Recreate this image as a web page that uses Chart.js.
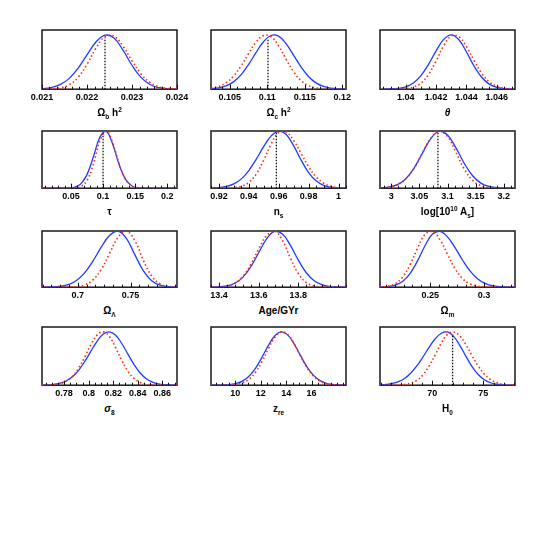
<!DOCTYPE html>
<html>
<head>
<meta charset="utf-8">
<script src="https://cdn.jsdelivr.net/npm/chart.js@4.4.1/dist/chart.umd.min.js"></script>
<style>
  body { margin: 0; background: #fff; }
  #plots { position: relative; width: 545px; height: 545px; }
  #plots canvas { position: absolute; }
  .xlab { position: absolute; text-align: center; font: bold 10px 'Liberation Sans', Arial, sans-serif; color: #000; line-height: 12px; }
  .xlab sub, .xlab sup { font-size: 65%; line-height: 0; }
</style>
</head>
<body>
<div id="plots"></div>
<script>
// ---- data (curves normalised to peak = 1) ----
const p1X = [0.0210, 0.0212, 0.0214, 0.0216, 0.0218, 0.0220, 0.0222, 0.0224, 0.0226, 0.0228, 0.0230, 0.0232, 0.0234, 0.0236, 0.0238, 0.0240];
const p1Blue = [0.009, 0.029, 0.083, 0.195, 0.384, 0.632, 0.868, 0.994, 0.941, 0.718, 0.441, 0.218, 0.087, 0.028, 0.007, 0.002];
const p1Red = [0.001, 0.005, 0.023, 0.080, 0.216, 0.458, 0.755, 0.969, 0.975, 0.793, 0.524, 0.282, 0.124, 0.044, 0.013, 0.003];

const p2X = [0.1025, 0.1035, 0.1045, 0.1055, 0.1065, 0.1075, 0.1085, 0.1095, 0.1105, 0.1115, 0.1125, 0.1135, 0.1145, 0.1155, 0.1165, 0.1175, 0.1185, 0.1195, 0.1205];
const p2Blue = [0.008, 0.023, 0.060, 0.135, 0.265, 0.452, 0.674, 0.874, 0.989, 0.976, 0.839, 0.629, 0.411, 0.234, 0.116, 0.050, 0.019, 0.006, 0.002];
const p2Red = [0.017, 0.048, 0.116, 0.239, 0.425, 0.653, 0.865, 0.988, 0.969, 0.801, 0.556, 0.325, 0.159, 0.066, 0.023, 0.007, 0.002, 0.000, 0.000];

const p3X = [1.0385, 1.0390, 1.0395, 1.0400, 1.0405, 1.0410, 1.0415, 1.0420, 1.0425, 1.0430, 1.0435, 1.0440, 1.0445, 1.0450, 1.0455, 1.0460, 1.0465, 1.0470];
const p3Blue = [0.001, 0.004, 0.014, 0.044, 0.114, 0.249, 0.458, 0.707, 0.917, 1.000, 0.910, 0.685, 0.427, 0.220, 0.094, 0.033, 0.010, 0.002];
const p3Red = [0.000, 0.000, 0.002, 0.010, 0.037, 0.111, 0.270, 0.520, 0.801, 0.982, 0.967, 0.785, 0.528, 0.294, 0.135, 0.052, 0.016, 0.004];

const p4X = [0.005, 0.015, 0.025, 0.035, 0.045, 0.055, 0.065, 0.075, 0.085, 0.095, 0.105, 0.115, 0.125, 0.135, 0.145, 0.155, 0.165, 0.175, 0.185, 0.195, 0.205, 0.215];
const p4Blue = [0, 0, 0, 0, 0.002, 0.015, 0.071, 0.237, 0.552, 0.889, 0.993, 0.768, 0.411, 0.153, 0.039, 0.007, 0.001, 0, 0, 0, 0, 0];
const p4Red = [0, 0, 0, 0, 0, 0.003, 0.027, 0.135, 0.424, 0.825, 0.998, 0.790, 0.423, 0.153, 0.038, 0.006, 0.001, 0, 0, 0, 0, 0];

const p5X = [0.915, 0.920, 0.925, 0.930, 0.935, 0.940, 0.945, 0.950, 0.955, 0.960, 0.965, 0.970, 0.975, 0.980, 0.985, 0.990, 0.995, 1.000, 1.005];
const p5Blue = [0.003, 0.011, 0.030, 0.075, 0.163, 0.309, 0.509, 0.730, 0.915, 0.999, 0.938, 0.741, 0.492, 0.274, 0.129, 0.051, 0.017, 0.005, 0.001];
const p5Red = [0.000, 0.000, 0.002, 0.008, 0.032, 0.101, 0.249, 0.492, 0.775, 0.972, 0.980, 0.835, 0.607, 0.375, 0.198, 0.089, 0.034, 0.011, 0.003];

const p6X = [2.980, 2.995, 3.010, 3.025, 3.040, 3.055, 3.070, 3.085, 3.100, 3.115, 3.130, 3.145, 3.160, 3.175, 3.190, 3.205, 3.220];
const p6Blue = [0.004, 0.018, 0.058, 0.157, 0.343, 0.605, 0.863, 0.997, 0.931, 0.704, 0.431, 0.213, 0.085, 0.028, 0.007, 0.002, 0.000];
const p6Red = [0.004, 0.016, 0.055, 0.153, 0.340, 0.607, 0.868, 0.998, 0.904, 0.627, 0.333, 0.135, 0.042, 0.010, 0.002, 0.000, 0.000];

const p7X = [0.666, 0.674, 0.682, 0.690, 0.698, 0.706, 0.714, 0.722, 0.730, 0.738, 0.746, 0.754, 0.762, 0.770, 0.778, 0.786, 0.794];
const p7Blue = [0.001, 0.004, 0.013, 0.042, 0.111, 0.246, 0.456, 0.708, 0.919, 1.000, 0.869, 0.579, 0.296, 0.116, 0.035, 0.008, 0.001];
const p7Red = [0.000, 0.000, 0.000, 0.002, 0.009, 0.038, 0.124, 0.311, 0.599, 0.884, 1.000, 0.828, 0.482, 0.198, 0.057, 0.012, 0.002];

const p8X = [13.36, 13.40, 13.44, 13.48, 13.52, 13.56, 13.60, 13.64, 13.68, 13.72, 13.76, 13.80, 13.84, 13.88, 13.92, 13.96, 14.00, 14.04];
const p8Blue = [0.001, 0.006, 0.023, 0.070, 0.175, 0.360, 0.613, 0.860, 0.994, 0.947, 0.744, 0.481, 0.257, 0.113, 0.041, 0.012, 0.003, 0.001];
const p8Red = [0.001, 0.005, 0.022, 0.072, 0.190, 0.400, 0.678, 0.919, 0.998, 0.831, 0.517, 0.240, 0.083, 0.022, 0.004, 0.001, 0.000, 0.000];

const p9X = [0.203, 0.210, 0.217, 0.224, 0.231, 0.238, 0.245, 0.252, 0.259, 0.266, 0.273, 0.280, 0.287, 0.294, 0.301, 0.308, 0.315, 0.322, 0.329];
const p9Blue = [0.002, 0.010, 0.035, 0.102, 0.242, 0.468, 0.737, 0.947, 0.995, 0.896, 0.704, 0.484, 0.290, 0.152, 0.069, 0.028, 0.010, 0.003, 0.001];
const p9Red = [0.004, 0.017, 0.062, 0.178, 0.398, 0.693, 0.938, 0.992, 0.845, 0.587, 0.333, 0.154, 0.058, 0.018, 0.005, 0.001, 0.000, 0.000, 0.000];

const p10X = [0.762, 0.767, 0.772, 0.777, 0.782, 0.787, 0.792, 0.797, 0.802, 0.807, 0.812, 0.817, 0.822, 0.827, 0.832, 0.837, 0.842, 0.847, 0.852, 0.857, 0.862, 0.867, 0.872];
const p10Blue = [0.002, 0.006, 0.016, 0.038, 0.083, 0.161, 0.284, 0.449, 0.642, 0.825, 0.957, 0.999, 0.936, 0.781, 0.582, 0.387, 0.229, 0.121, 0.057, 0.024, 0.009, 0.003, 0.001];
const p10Red = [0.001, 0.003, 0.010, 0.030, 0.076, 0.169, 0.325, 0.537, 0.766, 0.942, 0.999, 0.908, 0.703, 0.464, 0.261, 0.125, 0.051, 0.018, 0.005, 0.001, 0.000, 0.000, 0.000];

const p11X = [8.1, 8.6, 9.1, 9.6, 10.1, 10.6, 11.1, 11.6, 12.1, 12.6, 13.1, 13.6, 14.1, 14.6, 15.1, 15.6, 16.1, 16.6, 17.1, 17.6, 18.1, 18.6];
const p11Blue = [0.000, 0.001, 0.004, 0.012, 0.033, 0.081, 0.172, 0.321, 0.522, 0.742, 0.921, 0.999, 0.947, 0.784, 0.567, 0.358, 0.197, 0.095, 0.040, 0.015, 0.005, 0.001];
const p11Red = [0.000, 0.000, 0.001, 0.005, 0.016, 0.046, 0.115, 0.244, 0.441, 0.679, 0.891, 0.997, 0.954, 0.787, 0.560, 0.344, 0.182, 0.083, 0.033, 0.011, 0.003, 0.001];

const p12X = [64.9, 65.5, 66.1, 66.7, 67.3, 67.9, 68.5, 69.1, 69.7, 70.3, 70.9, 71.5, 72.1, 72.7, 73.3, 73.9, 74.5, 75.1, 75.7, 76.3, 76.9, 77.5, 78.1];
const p12Blue = [0.005, 0.014, 0.032, 0.066, 0.127, 0.224, 0.360, 0.528, 0.709, 0.869, 0.974, 0.997, 0.914, 0.746, 0.541, 0.349, 0.200, 0.102, 0.046, 0.019, 0.007, 0.002, 0.001];
const p12Red = [0.000, 0.000, 0.001, 0.004, 0.013, 0.038, 0.091, 0.193, 0.356, 0.569, 0.790, 0.952, 0.997, 0.923, 0.759, 0.554, 0.360, 0.208, 0.107, 0.049, 0.020, 0.007, 0.002];

// axis ranges and tick labels
const xRanges = [[0.021, 0.024], [0.1025, 0.1205], [1.0383, 1.0472],
                 [0.005, 0.215], [0.9147, 1.005], [2.98, 3.22],
                 [0.666, 0.794], [13.36, 14.04], [0.203, 0.329],
                 [0.762, 0.872], [8.1, 18.7], [64.9, 78.1]];
const tickLabels = [[0.021, 0.022, 0.023, 0.024], [0.105, 0.11, 0.115, 0.12], [1.04, 1.042, 1.044, 1.046],
                    [0.05, 0.1, 0.15, 0.2], [0.92, 0.94, 0.96, 0.98, 1], [3, 3.05, 3.1, 3.15, 3.2],
                    [0.7, 0.75], [13.4, 13.6, 13.8], [0.25, 0.3],
                    [0.78, 0.8, 0.82, 0.84, 0.86], [10, 12, 14, 16], [70, 75]];
const minorSteps = [0.001 / 6, 0.001, 0.0005, 0.01, 0.005, 0.0125, 0.05 / 6, 0.04, 0.05 / 6, 0.005, 0.5, 1];
// fiducial (input) values, drawn as dotted verticals; null = none
const fiducialX = [0.0224, 0.1101, null, 0.1, 0.9584, 3.083, null, null, null, null, null, 72];
const fiducialTop = [0.95, 0.93, null, 0.96, 0.97, 0.97, null, null, null, null, null, 0.96];

const axisTitles = ['Ω<sub>b</sub> h<sup>2</sup>', 'Ω<sub>c</sub> h<sup>2</sup>', '<i>θ</i>',
                    'τ', 'n<sub>s</sub>', 'log[10<sup>10</sup> A<sub>s</sub>]',
                    'Ω<sub>Λ</sub>', 'Age/GYr', 'Ω<sub>m</sub>',
                    '<i>σ</i><sub>8</sub>', 'z<sub>re</sub>', 'H<sub>0</sub>'];

const curveX = [p1X, p2X, p3X, p4X, p5X, p6X, p7X, p8X, p9X, p10X, p11X, p12X];
const curveBlue = [p1Blue, p2Blue, p3Blue, p4Blue, p5Blue, p6Blue, p7Blue, p8Blue, p9Blue, p10Blue, p11Blue, p12Blue];
const curveRed = [p1Red, p2Red, p3Red, p4Red, p5Red, p6Red, p7Red, p8Red, p9Red, p10Red, p11Red, p12Red];

// ---- layout ----
const COL_LEFT = [42, 211, 380];
const BOX_W = 135;
const ROW_TOP = [30, 131, 231, 327];
const ROW_BOTTOM = [92, 191, 290, 388];
const ROW_YMAX = [1.09, 1.0, 1.0, 1.09];
const PAD_X = 16;

Chart.defaults.font.family = "'Liberation Sans', Arial, sans-serif";
Chart.defaults.color = '#000';

// box frame + inward tick marks on the bottom axis
const frameTicks = {
    id: 'frameTicks',
    beforeDatasetsDraw(chart) {
        const { ctx, chartArea: a } = chart;
        ctx.save();
        ctx.strokeStyle = '#1a1a1a';
        ctx.lineWidth = 1.5;
        ctx.strokeRect(a.left, a.top, a.right - a.left, a.bottom - a.top);
        ctx.restore();
    },
    afterDatasetsDraw(chart, args, opts) {
        const { ctx, chartArea: a, scales: { x } } = chart;
        const t0 = opts.labels[0];
        const kMin = Math.ceil((x.min - t0) / opts.step - 1e-6);
        const kMax = Math.floor((x.max - t0) / opts.step + 1e-6);
        ctx.save();
        ctx.strokeStyle = '#111';
        ctx.lineWidth = 1;
        ctx.beginPath();
        for (let k = kMin; k <= kMax; k++) {
            const v = t0 + k * opts.step;
            const major = opts.labels.some(l => Math.abs(l - v) < opts.step / 10);
            const px = Math.round(x.getPixelForValue(v)) + 0.5;
            ctx.moveTo(px, a.bottom);
            ctx.lineTo(px, a.bottom - (major ? 4.5 : 2.5));
        }
        ctx.stroke();
        ctx.restore();
    }
};

const plots = document.getElementById('plots');

for (let i = 0; i < 12; i++) {
    const r = Math.floor(i / 3), c = i % 3;
    const boxH = ROW_BOTTOM[r] - ROW_TOP[r];
    const canvas = document.createElement('canvas');
    canvas.width = BOX_W + 2 * PAD_X;
    canvas.height = boxH + 2 + 14;
    canvas.style.left = (COL_LEFT[c] - PAD_X) + 'px';
    canvas.style.top = (ROW_TOP[r] - 2) + 'px';
    canvas.style.width = canvas.width + 'px';
    canvas.style.height = canvas.height + 'px';
    plots.appendChild(canvas);

    const lab = document.createElement('div');
    lab.className = 'xlab';
    lab.style.left = COL_LEFT[c] + 'px';
    lab.style.width = BOX_W + 'px';
    lab.style.top = (ROW_BOTTOM[r] + 15) + 'px';
    lab.innerHTML = axisTitles[i];
    plots.appendChild(lab);

    const xs = curveX[i];
    const datasets = [
        {
            data: xs.map((x, j) => ({ x, y: curveRed[i][j] })),
            borderColor: '#ff2a10', borderWidth: 1.6, borderDash: [1.5, 2.5],
            pointRadius: 0, tension: 0.4, fill: false
        },
        {
            data: xs.map((x, j) => ({ x, y: curveBlue[i][j] })),
            borderColor: '#1f3cff', borderWidth: 1.3,
            pointRadius: 0, tension: 0.4, fill: false
        }
    ];
    if (fiducialX[i] !== null) {
        datasets.unshift({
            data: [{ x: fiducialX[i], y: 0 }, { x: fiducialX[i], y: fiducialTop[i] }],
            borderColor: '#000', borderWidth: 1.2, borderDash: [1.5, 1.5],
            pointRadius: 0, fill: false
        });
    }

    new Chart(canvas, {
        type: 'line',
        data: { datasets },
        options: {
            responsive: false,
            animation: false,
            devicePixelRatio: 1,
            layout: { padding: { left: PAD_X, right: PAD_X, top: 2, bottom: 0 } },
            plugins: {
                legend: { display: false },
                tooltip: { enabled: false },
                frameTicks: { labels: tickLabels[i], step: minorSteps[i] }
            },
            scales: {
                x: {
                    type: 'linear',
                    min: xRanges[i][0],
                    max: xRanges[i][1],
                    grid: { display: false, drawTicks: false },
                    border: { display: false },
                    afterBuildTicks: scale => { scale.ticks = tickLabels[i].map(v => ({ value: v })); },
                    ticks: {
                        padding: 3,
                        autoSkip: false,
                        maxRotation: 0,
                        font: { size: 9, weight: 'bold' },
                        color: '#000',
                        callback: v => String(v)
                    }
                },
                y: { display: false, min: 0, max: ROW_YMAX[r] }
            }
        },
        plugins: [frameTicks]
    });
}
</script>
</body>
</html>
